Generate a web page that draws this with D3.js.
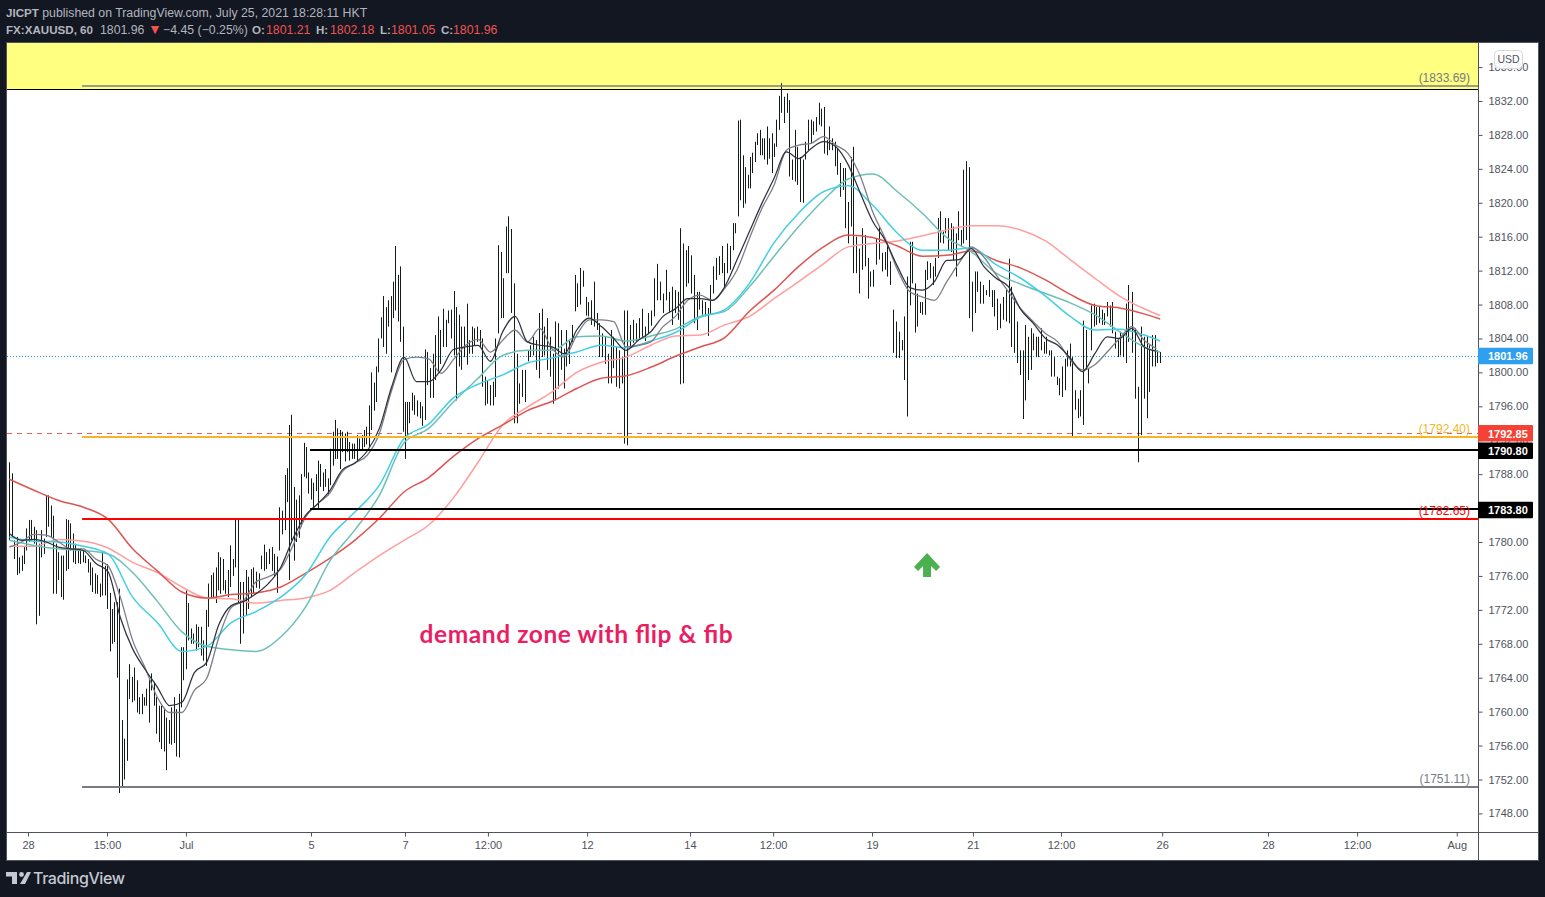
<!DOCTYPE html>
<html><head><meta charset="utf-8">
<style>html,body{margin:0;padding:0;background:#131722;overflow:hidden}svg{display:block}</style>
<script src="https://cdn.jsdelivr.net/npm/d3@7/dist/d3.min.js"></script></head><body>
<script>
// ---- price levels and labels
const priceTicks = d3.range(1748, 1837, 4);
const timeLabels = ["28","15:00","Jul","5","7","12:00","12","14","12:00","19","21","12:00","26","28","12:00","Aug"];
const timeSlots  = [7.6,39.6,71.6,122.3,160.4,194,234.2,275.9,309.6,349.7,390.6,426.3,467.3,510.2,546.3,586.7];
const lastPrice = 1801.96;

// ---- hourly bars, high / low, in consecutive runs
const highsA=[1789.4,1788.1,1780.2,1780.6,1778.2,1778.4,1779.4,1781.6,1782.6,1782.6,1781.8,1781.4,1779.8,1781.4,1780.4,1785.5,1785.5,1784.3,1783.1,1779.8,1778.8,1778.4,1778.4,1782.7,1782.6,1782.2,1781,1779.8,1779,1779.2,1779,1778.4,1778,1777.6,1777,1776.3,1776.1,1775.1,1778.8,1777.2,1777.4,1774,1772.1,1772.9,1772.9,1774.5,1759,1756.8,1763.8,1765.6,1764.1,1765.2,1763.7,1761.7,1762.1,1761.7,1762.7,1763.9,1764.5,1763.5,1761.7,1760.7,1760.7,1760.3,1759.3,1759,1760.5,1761.7,1760.3,1762.1,1767.6,1767.6,1774.3,1772.8,1769.8,1769.2,1770.3,1770,1770,1768.4,1772,1775.1,1776.1,1776.4,1777,1778.8,1778.2,1778,1775.5,1776.7,1779.6,1778,1782.7,1782.7,1775.3,1775.3,1776.7,1775.9,1776.8,1777,1776.5,1776.3,1778.4,1779.7,1778.8,1779.2,1779.4,1778.6,1778.3,1784.1,1783.7,1787.9,1788.7];
const lowsA=[1780.2,1780.6,1778,1776.1,1776.3,1776.6,1777.4,1779,1780,1780.2,1779.8,1770.3,1771.3,1778.2,1778.6,1780.6,1781.8,1780.6,1773.9,1773.9,1775.5,1773.5,1773.2,1776.6,1776.8,1779,1777.6,1777.4,1777.5,1777.4,1777.6,1777.5,1776.4,1774.9,1774.1,1773.9,1773.9,1773.5,1773.7,1773.7,1772.1,1767.1,1768,1768.2,1764,1750.4,1751.1,1752,1754.2,1761.5,1761.1,1761.3,1759.9,1759.7,1759.7,1760.7,1760.7,1758.7,1762.5,1760.7,1757.4,1756.4,1755.6,1755.3,1753.1,1756.2,1756.1,1756.3,1754.7,1754.6,1760.5,1763.7,1765,1768.4,1768,1768,1767.2,1767.6,1766.6,1766,1765.4,1770,1773.5,1773.5,1772.8,1774.3,1773.9,1774.3,1773.9,1773.5,1774.7,1776,1777,1772.7,1768,1769.2,1771.3,1772.1,1773.5,1773.9,1774.6,1774.5,1776.8,1776.6,1776.8,1777.4,1776.6,1775.9,1774,1779,1780.9,1781.4,1784.7];
const highsB=[1793.8,1795,1786.5,1785,1785.5,1788,1791.7,1791.2,1788.2,1787.5,1787,1788,1789.6,1789.2,1788.2,1788.6,1787.5,1791,1793,1794.4,1793.4,1793.2,1793,1792.8,1793,1791.8,1791.6,1791.6,1792.6,1792.2,1792.6,1793.2,1793.6,1796.1,1800,1798.8,1800.7,1804,1806.5,1809,1807.7,1808.5,1809,1810.7,1814.9,1811.5,1812.5,1805.4,1796.5];
const lowsB=[1775.5,1780.2,1777.8,1780,1780.5,1781.8,1787.7,1787.5,1785.7,1785,1784,1786,1784,1786.5,1786,1786.5,1785.5,1786.7,1789,1789.8,1789.8,1788.6,1790.6,1789.5,1790.6,1789.6,1789.8,1789.8,1789.6,1790.8,1790.8,1791.2,1791.5,1791.2,1793.2,1795.5,1796.5,1800,1804,1803,1802.2,1805.4,1800,1806.4,1807.3,1806,1803.6,1793,1789.8];
const highsC=[1796.5,1796.5,1797.6,1797.3,1796.7,1796.5,1796,1802.7,1802.4,1800.5,1802.2,1804.4,1806.6,1805,1807.5,1806.2,1807.3,1807.4,1809.6,1807.7,1806.8,1805.4,1805.4,1808.1,1803.8,1805.4,1805.2,1805.4,1805,1804,1799.5,1799.1,1798.5,1798.9,1804,1815,1814.2,1811.1,1817.2,1818.4,1816.9,1810.5,1802.2,1798.7,1800.3,1800.3,1802.6,1803.2,1804.2,1803.8,1807,1807.5,1805.4,1806.4,1804.2,1802.2,1806,1805.8,1805,1802.8,1805,1803.8,1805.6,1811.5,1810.5,1812.3,1812,1808.9,1808.3,1808.5,1810.7,1807,1805.8,1804.6,1804.2,1802.2,1805,1804.2,1803,1802.6,1801.8,1807.3,1807.3,1805.6,1806.2,1805.8,1806.4,1807.5,1805.4,1807,1807.3,1811.1,1812.8,1810.7,1809.3,1812.1,1809.5,1810.1,1809.7,1809.5];
const lowsC=[1792.4,1794,1795.5,1795,1794.8,1794.6,1793.7,1794.4,1798.5,1797,1797,1799.1,1799.9,1801,1803,1803,1805.8,1804,1802,1796.7,1800.7,1800.3,1801.8,1800.9,1802.2,1802.2,1803.2,1803.6,1803,1798.3,1796.1,1796.3,1796.1,1796.1,1797.1,1804.6,1806.4,1806.4,1811.7,1811.7,1807,1794,1794,1796.3,1797.1,1796.5,1801.3,1801.8,1802,1800.3,1799.3,1801.8,1802,1800.3,1799.5,1796.3,1796.7,1798.1,1800.3,1798.1,1800.7,1801,1803.6,1807.2,1807.7,1808,1810.1,1806.7,1806.6,1805.6,1805.4,1805,1801.8,1801.8,1801,1798.7,1798.7,1800.5,1798.3,1798.1,1798.7,1791.6,1791.4,1803,1803.5,1803.6,1804,1804.2,1803.7,1804.6,1805.5,1806.6,1808.5,1808.5,1807,1808.5,1807,1805.6,1807,1806.2];
const highsD=[1817,1815.2,1814.4,1814.9,1813.8,1811.5,1809.5,1809.5,1808.5,1808.3,1807.6,1810.3,1812.5,1813.5,1813.7,1814.9,1812.9,1815.2,1814.9,1817.6,1817.6,1829.7,1829.8,1825.6,1824.2,1823.3,1825.4,1825.9,1827.2,1828.2,1828.6,1827.6,1827.6,1829,1827.6,1828.2,1827,1829.8,1832.6,1834.1,1832.5,1832.9,1832.1,1825.1,1828.6,1826.6,1825.4,1825.1,1827.2,1829.8,1829.8,1829.6,1830.1,1831.8,1831.1,1831.3,1827.4,1829,1827.6,1827.2,1826.4,1824.7,1824.1,1824.1,1820.1,1825.4,1826.6,1816,1814.6,1817,1816.2,1813.5,1811.9,1812.1,1815.8,1817.2,1814.1,1814.2,1815.2,1813.1,1807.4,1806,1804.8,1803.8];
const lowsD=[1798.6,1798.7,1810.1,1810.5,1809.3,1805.8,1805,1807.4,1806.8,1806.6,1804.3,1806.8,1809.3,1810.9,1811.5,1811.7,1809.9,1811.7,1812.1,1814.4,1816.4,1818.4,1820.3,1819.4,1819.9,1821.7,1821.7,1823.5,1824.8,1826.8,1825.6,1825.6,1825.1,1824.5,1825.2,1823.5,1825.4,1826.6,1828.6,1830.6,1829.4,1830.6,1823.1,1822.7,1822.5,1822.1,1820.1,1820,1825.1,1826.2,1827,1828,1828.4,1829.2,1829,1825.8,1825.6,1826.2,1826.2,1824.3,1823.3,1820.7,1821.5,1817,1815.2,1817.2,1811.7,1811.7,1809.3,1812.1,1812.5,1808.7,1810.1,1810.1,1812.7,1813.3,1811.9,1812.1,1811.3,1810.3,1802.3,1801.7,1801.7,1802.6];
const highsE=[1806.6,1811.3,1815.4,1815.4,1810.5,1809.3,1808.3,1808.3,1812.1,1813.1,1812.9,1812.5,1813.5,1818.2,1819,1816.6,1818.2,1818.2,1817.6,1817.2,1816.4,1819,1816.8,1823.9,1824.9,1824.2,1810.7,1811.9,1811.9,1810.7,1810.3,1809.7,1810.9,1809.7,1809.7,1808.7,1808.1,1808.9,1809.7,1813.4,1810.1,1808.9,1806,1802.6,1802.6,1805.6,1804.2,1805.2,1804.6,1804.2,1804.2,1805.2,1803.6,1804.2,1802.6,1802.6,1801.8,1799.5,1799.3,1800.7,1801.6,1802.6,1803.4,1801.8,1797.9,1796.9,1797.9,1806.1,1805,1800.5,1807.9,1808.1,1807.7,1807.7,1807.4,1807,1808.3,1807.9,1808.3,1804.8,1803.8,1804.8,1804.6,1808.1,1810.3,1809.5,1805.2,1798.3,1805.4,1804.2,1804.2,1803.2,1804.4,1804.4,1802.6,1802.4];
const lowsE=[1799.1,1794.8,1807.9,1810.5,1804.7,1805.4,1807,1806.8,1806.8,1810.9,1811.1,1810.3,1811.3,1813.5,1815.3,1815.2,1816.4,1814.4,1814.2,1813.2,1811.3,1815.6,1814.8,1815.2,1815.6,1806.4,1804.8,1807,1809.5,1808.1,1808.1,1809.1,1808.9,1807.7,1806.6,1805,1805.2,1806.2,1806,1805.8,1803,1802.3,1801.1,1799.7,1794.5,1796.7,1799.1,1800.3,1802.6,1801.8,1801.8,1802.6,1802.2,1802.2,1802,1799.5,1799.5,1798.5,1797.3,1797.1,1797.9,1800.7,1800.7,1792.5,1795.6,1794.6,1794.8,1793.8,1800.3,1798.7,1802.6,1805.4,1805.6,1805.8,1805.6,1805.6,1806.6,1805.4,1804.6,1802.8,1801.8,1802,1801.8,1801.1,1803.6,1802.3,1796.9,1789.4,1792.6,1796.9,1794.6,1797.7,1800.7,1800.7,1801.1,1801.1];
// time slots of selected bars in each run: [bar number in run, slot]
const runKnots = [
 [[0,0],[45,44.6],[92,91.6],[112,112.6]],
 [[0,113.4],[48,160.4]],
 [[0,161],[39,202.3],[81,249.3],[82,250.2],[99,271.2]],
 [[0,271.9],[21,295.4],[39,312.9],[66,342.1],[83,361.7]],
 [[0,362.8],[24,387.8],[44,410.8],[63,430.9],[84,453.6],[87,457.7],[95,466.5]]];

// ---- moving averages: two fast ones sampled every 5 slots, four slower every 10
const fastBlack=[1781,1780.2,1780.3,1780,1779.4,1779.2,1779,1777.5,1776.5,1771.1,1767.4,1765,1762.9,1760.7,1761.1,1764.6,1765.8,1770.3,1772.5,1773,1773.9,1775.1,1777,1780.4,1783.1,1784.5,1786.1,1788.5,1789.3,1790.7,1793.4,1798.3,1801.8,1798.9,1798.9,1800.3,1802.7,1803,1803.2,1801.3,1804.8,1806.6,1803.6,1803.2,1803,1802.2,1805,1806.4,1805.4,1804,1802.6,1803.8,1804.8,1806.6,1807.5,1808.7,1808.7,1808.5,1810.1,1813.3,1816.6,1819.9,1822.9,1826,1825.2,1826.4,1827.2,1826.6,1824.5,1821.1,1817.8,1815.6,1812.5,1810,1809.7,1810.7,1813.2,1813.3,1814.6,1812.5,1811.1,1810.1,1807.4,1805.8,1804,1803.2,1801.7,1800.1,1802.2,1804.2,1804,1805.2,1803,1802.5];
const fastGray=[1779.4,1780,1780.9,1780.8,1780,1779.2,1779.2,1778,1777.2,1773.5,1768.4,1765.2,1761.7,1759.9,1759.9,1762.5,1763.9,1768.8,1772.3,1773.1,1775.3,1775.9,1776.8,1779.6,1782.9,1784.5,1785.8,1788.3,1789.3,1790.2,1792.8,1797.9,1801.5,1801.8,1801.6,1799.9,1801.5,1803.2,1803.9,1802.4,1803.8,1805,1803.6,1805.2,1802.8,1801.8,1804.4,1806.2,1806.2,1806,1803,1803.2,1803.6,1805.4,1806.6,1808.5,1809.1,1808.5,1809.9,1812.1,1815.8,1819.3,1822.1,1826.2,1826.8,1827,1827.8,1826.8,1825.8,1823.1,1818.9,1815.8,1812.1,1809.5,1808.9,1808.5,1810.7,1812.9,1814.8,1813.6,1811.5,1809.5,1807.5,1806,1804.6,1803.6,1801.5,1800.3,1800.9,1802.4,1804,1805.4,1803.8,1802.8];
const cyanLine=[1780.6,1780.1,1780,1779.5,1778.6,1773.5,1770.5,1767.1,1767.7,1770.5,1771.8,1773.5,1776.1,1780.6,1783.5,1786.7,1792.2,1793.9,1797,1798.6,1799.7,1801.1,1801.7,1802.4,1803.2,1802.9,1803.7,1804.7,1806.5,1807.4,1810.5,1815.3,1818.8,1821.3,1822,1819.7,1816.4,1814.4,1814.4,1814.7,1812.7,1811.1,1809,1806.6,1805,1805.1,1804.4,1803.7];
const tealLine=[1780.2,1779.6,1779.2,1779,1778.6,1776.4,1773,1769.4,1767.7,1767.3,1767.1,1768.8,1772.3,1777.8,1781.4,1785.5,1791.7,1793.4,1796.5,1799.3,1802,1802.6,1802.6,1804.2,1804.3,1803.7,1804.3,1805.1,1806.6,1807.2,1810.1,1813.7,1817.2,1820.3,1822.8,1823.4,1821.3,1818.8,1815.9,1814.2,1811.7,1810.4,1809.3,1808.2,1806.8,1804.8,1803,1802.4];
const redLine=[1787.4,1786.1,1784.9,1784.1,1782.7,1779.2,1776.6,1774.1,1773.4,1773.8,1774,1774.7,1776.3,1778.1,1780.2,1782.8,1785.9,1787.6,1790.1,1792.2,1793.8,1795.5,1796.6,1798.1,1799.3,1799.6,1800.6,1801.9,1803,1804.1,1807.2,1809.7,1812.5,1814.8,1816.2,1815.9,1814.9,1813.7,1813.8,1814.3,1813.2,1812.3,1810.9,1809.2,1807.9,1807.6,1806.9,1806.3];
const pinkLine=[1779.5,1779.5,1780.3,1780.1,1779.3,1777.6,1776.4,1774.7,1773.4,1773.3,1772.8,1773.1,1773.4,1774.3,1776.4,1778.4,1780.2,1782,1785.2,1789.4,1793.8,1795.9,1797.7,1800,1801.2,1801.8,1803.2,1804.3,1804.4,1805.6,1806.6,1808.7,1810.7,1812.8,1814.8,1815.2,1815.5,1816.1,1816.8,1817.3,1817.3,1816.8,1815.5,1813.3,1811.1,1809,1807.5,1806.7];
const slowSlots=[...d3.range(0,470,10),466.5];
const fastSlots=d3.range(0,470,5);

// ---- layout
const W=1545,H=897;
const plot={l:7,r:1478,t:43,b:832}, panelR=1538, panelB=860;
const x=d3.scaleLinear().domain([0,466.5]).range([9.3,1160.2]);
const y=d3.scaleLinear().domain([1748,1832]).range([813.4,101]);
const font="'Liberation Sans',Arial,sans-serif";
const svg=d3.select("body").append("svg").attr("width",W).attr("height",H).style("font-family",font);
svg.append("rect").attr("width",W).attr("height",H).attr("fill","#131722");
svg.append("rect").attr("x",plot.l).attr("y",plot.t).attr("width",panelR-plot.l).attr("height",panelB-plot.t).attr("fill","#fff");
svg.append("defs").append("clipPath").attr("id","c").append("rect").attr("x",plot.l).attr("y",plot.t).attr("width",plot.r-plot.l).attr("height",plot.b-plot.t);
const g=svg.append("g").attr("clip-path","url(#c)");

// yellow zone
const zoneEdge=Math.round(y(1833.42));
g.append("rect").attr("x",plot.l).attr("y",plot.t).attr("width",plot.r-plot.l).attr("height",zoneEdge-plot.t).attr("fill","#ffff80");
g.append("line").attr("x1",plot.l).attr("x2",plot.r).attr("y1",zoneEdge+.5).attr("y2",zoneEdge+.5).attr("stroke","#000").attr("stroke-width",1.2);

// price guide lines
const yLast=Math.round(y(lastPrice))+.5, yAlert=Math.round(y(1792.85))+.5;
g.append("line").attr("x1",plot.l).attr("x2",plot.r).attr("y1",yLast).attr("y2",yLast).attr("stroke","#2196f3").attr("stroke-dasharray","1 2");
g.append("line").attr("x1",plot.l).attr("x2",plot.r).attr("y1",yAlert).attr("y2",yAlert).attr("stroke","#e0615d").attr("stroke-dasharray","5 5");

// bars
const bars=[];
[[highsA,lowsA],[highsB,lowsB],[highsC,lowsC],[highsD,lowsD],[highsE,lowsE]].forEach(([h,l],r)=>{
  const k=runKnots[r], s=d3.scaleLinear().domain(k.map(d=>d[0])).range(k.map(d=>d[1]));
  h.forEach((v,i)=>bars.push({t:s(i),h:v,l:l[i]}));
});
g.selectAll("line.bar").data(bars).join("line").attr("class","bar")
 .attr("x1",d=>Math.round(x(d.t))+.5).attr("x2",d=>Math.round(x(d.t))+.5)
 .attr("y1",d=>y(d.h)).attr("y2",d=>y(d.l)).attr("stroke","#131c16").attr("stroke-width",1);

// moving averages
const line=ts=>d3.line().x((d,i)=>x(ts[i])).y(d=>y(d)).curve(d3.curveMonotoneX);
[[pinkLine,"#ff9e9e",slowSlots,1.5],[redLine,"#dd5552",slowSlots,1.5],[tealLine,"#6cc0b6",slowSlots,1.5],[cyanLine,"#42cfe3",slowSlots,1.5],[fastGray,"#7c7f88",fastSlots,1.3],[fastBlack,"#30333d",fastSlots,1.25]]
.forEach(([vals,col,ts,w])=>g.append("path").attr("d",line(ts)(vals)).attr("fill","none").attr("stroke",col).attr("stroke-width",w));

// drawn levels
const leftSlot=29.5, midSlot=121.9;
const levels=[
 {p:1833.69,s:leftSlot,c:"#787b86",w:1.6,label:"(1833.69)"},
 {p:1792.40,s:leftSlot,c:"#f3b72c",w:2,label:"(1792.40)"},
 {p:1790.80,s:midSlot,c:"#000",w:2},
 {p:1783.80,s:midSlot,c:"#000",w:2},
 {p:1782.65,s:leftSlot,c:"#ff0000",w:2,label:"(1782.65)"},
 {p:1751.11,s:leftSlot,c:"#787b86",w:2,label:"(1751.11)"}];
levels.forEach(d=>{
  const py=Math.round(y(d.p)-.3);
  g.append("line").attr("x1",x(d.s)).attr("x2",plot.r).attr("y1",py).attr("y2",py).attr("stroke",d.c).attr("stroke-width",d.w);
  if(d.label) g.append("text").attr("x",plot.r-8).attr("y",py-4).attr("text-anchor","end").attr("font-size",12).attr("fill",d.c).text(d.label);
});

// annotations
const arrow=[[0,-12],[13,2],[9,6],[4,1],[4,12],[-4,12],[-4,1],[-9,6],[-13,2]];
g.append("path").attr("d",d3.line()(arrow)+"Z").attr("transform",`translate(${x(372)},${y(1777.3)})`).attr("fill","#4caf50");
g.append("text").attr("x",x(166.3)).attr("y",y(1767.6)-4.5).attr("font-size",24.5).attr("font-family","Lato,'Noto Sans',sans-serif").attr("font-weight",700).attr("fill","#e91e63").attr("textLength",313).text("demand zone with flip & fib");

// borders
const axc="#50535e";
svg.append("line").attr("x1",plot.r+.5).attr("x2",plot.r+.5).attr("y1",plot.t).attr("y2",panelB).attr("stroke",axc);
svg.append("line").attr("x1",plot.l).attr("x2",panelR).attr("y1",plot.b+.5).attr("y2",plot.b+.5).attr("stroke",axc);
svg.append("rect").attr("x",plot.l-.5).attr("y",plot.t-.5).attr("width",panelR-plot.l+1).attr("height",panelB-plot.t+1).attr("fill","none").attr("stroke",axc);

// axes
const yAxis=d3.axisRight(y).tickValues(priceTicks).tickSize(4).tickPadding(6).tickFormat(d3.format(".2f"));
const ya=svg.append("g").attr("transform",`translate(${plot.r+.5},0)`).call(yAxis);
const xAxis=d3.axisBottom(x).tickValues(timeSlots).tickSize(4).tickPadding(5).tickFormat((d,i)=>timeLabels[i]);
const xa=svg.append("g").attr("transform",`translate(0,${plot.b+.5})`).call(xAxis);
[ya,xa].forEach(a=>{a.select(".domain").remove();a.selectAll("line").attr("stroke",axc);a.selectAll("text").attr("fill","#50535e").attr("font-size",11).attr("font-family",font);});

// USD badge
svg.append("rect").attr("x",1494.5).attr("y",50.5).attr("width",28).attr("height",18).attr("rx",4).attr("fill","#fff").attr("fill-opacity",.9).attr("stroke","#d6d8df");
svg.append("text").attr("x",1508.5).attr("y",63).attr("text-anchor","middle").attr("font-size",10.5).attr("fill","#50535e").text("USD");

// price badges
[[lastPrice,"#2f9ff0"],[1792.85,"#f44336"],[1790.80,"#000"],[1783.80,"#000"]].forEach(([p,c])=>{
  svg.append("rect").attr("x",plot.r).attr("y",y(p)-8).attr("width",55).attr("height",16.5).attr("rx",1).attr("fill",c);
  svg.append("text").attr("x",plot.r+10).attr("y",y(p)+4.5).attr("font-size",11).attr("font-weight",700).attr("fill","#fff").text(p.toFixed(2));
});

// header
svg.append("text").attr("x",6).attr("y",17).attr("font-size",12.3).attr("fill","#b2b5be").call(t=>{
  t.append("tspan").attr("font-weight",700).attr("font-size",11.6).text("JICPT");
  t.append("tspan").text(" published on TradingView.com, July 25, 2021 18:28:11 HKT");
});
const hdr=svg.append("text").attr("x",6).attr("y",34).attr("font-size",12.3).attr("fill","#b2b5be");
hdr.append("tspan").attr("font-weight",700).attr("font-size",11.6).text("FX:XAUUSD, 60");
hdr.append("tspan").attr("x",100).text("1801.96");
hdr.append("tspan").attr("x",148).attr("fill","#ef5350").attr("font-size",14).text("▼");
hdr.append("tspan").attr("x",163).text("−4.45 (−0.25%)");
[["O:",252,"1801.21",266],["H:",316,"1802.18",330],["L:",380,"1801.05",391],["C:",441,"1801.96",453]].forEach(([a,ax,b,bx])=>{
  hdr.append("tspan").attr("x",ax).attr("font-weight",700).attr("font-size",11.6).text(a);
  hdr.append("tspan").attr("x",bx).attr("fill","#ef5350").text(b);
});

// logo
const logo=svg.append("g").attr("fill","#c5c8d0");
logo.append("path").attr("d","M6 872H17V884H12V876.5H6ZM27 872H31L25 884H20Z");
logo.append("circle").attr("cx",21.5).attr("cy",874.5).attr("r",2.4);
svg.append("text").attr("x",33).attr("y",884).attr("font-size",16).attr("font-weight",500).attr("font-family","Inter,'Noto Sans',sans-serif").attr("fill","#c5c8d0").attr("textLength",92).text("TradingView");
</script></body></html>
